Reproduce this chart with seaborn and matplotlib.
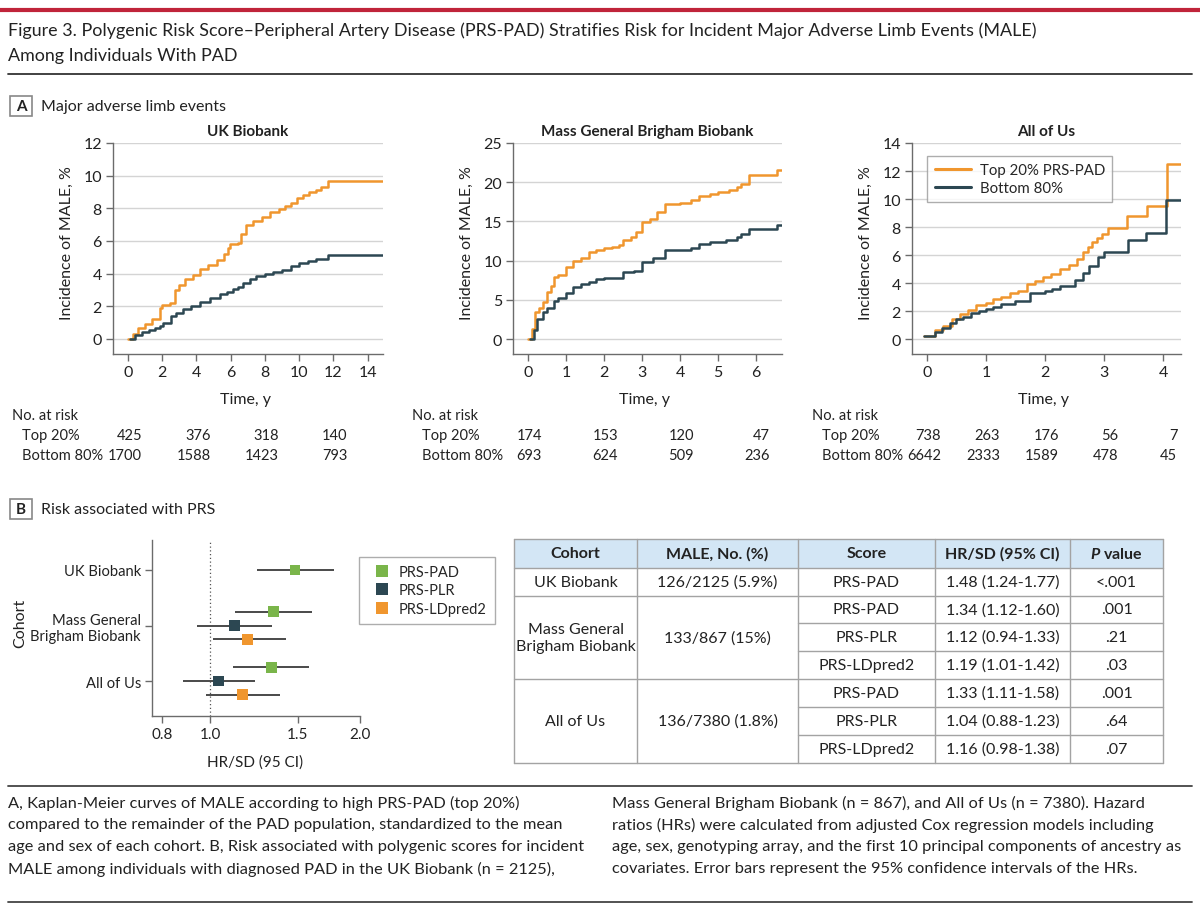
import numpy as np
import pandas as pd
import seaborn as sns
import matplotlib.pyplot as plt
from matplotlib.patches import Rectangle
from matplotlib.lines import Line2D
from matplotlib.transforms import blended_transform_factory, offset_copy

# =============================================================================
# data
groups = ['Top 20% PRS-PAD', 'Bottom 80%']

uk_t_top = [0, 0.3, 0.6, 1.0, 1.4, 1.87, 2.0, 2.45, 2.74, 3.0, 3.3, 3.8, 4.2, 4.7, 5.2, 5.6, 5.85,
            5.95, 6.4, 6.6, 6.9, 7.3, 7.8, 8.3, 8.8, 9.2, 9.5, 9.85, 10.2, 10.6, 11.0, 11.3, 11.7, 14.9]
uk_y_top = [0, 0.3, 0.65, 0.9, 1.2, 1.9, 2.05, 2.2, 3.0, 3.3, 3.65, 3.9, 4.3, 4.55, 4.85, 5.2, 5.6,
            5.8, 5.9, 6.4, 7.0, 7.25, 7.45, 7.75, 7.95, 8.15, 8.35, 8.65, 8.8, 9.0, 9.15, 9.3, 9.65, 9.65]
uk_t_bot = [0.1, 0.4, 0.8, 1.2, 1.6, 1.87, 2.05, 2.5, 2.8, 3.2, 3.7, 4.2, 4.8, 5.4, 5.8, 6.15, 6.4,
            6.7, 7.1, 7.5, 8.0, 8.5, 9.0, 9.5, 10.0, 10.5, 11.0, 11.7, 14.9]
uk_y_bot = [0, 0.25, 0.45, 0.55, 0.7, 0.8, 1.0, 1.4, 1.6, 1.85, 2.0, 2.25, 2.5, 2.75, 2.9, 3.05, 3.2,
            3.45, 3.7, 3.85, 4.0, 4.1, 4.25, 4.45, 4.65, 4.8, 4.9, 5.15, 5.15]

mgb_t_top = [0, 0.1, 0.2, 0.3, 0.4, 0.5, 0.6, 0.7, 0.8, 1.0, 1.2, 1.4, 1.6, 1.8, 2.0, 2.2, 2.4, 2.5,
             2.7, 2.85, 3.0, 3.2, 3.4, 3.6, 4.0, 4.3, 4.5, 4.8, 5.0, 5.3, 5.5, 5.6, 5.8, 6.55, 6.68]
mgb_y_top = [0, 1.3, 3.4, 4.0, 4.7, 6.0, 6.8, 7.9, 8.2, 9.2, 10.0, 10.4, 11.1, 11.3, 11.6, 11.7, 12.0,
             12.6, 13.0, 13.6, 14.9, 15.3, 16.2, 17.25, 17.3, 17.7, 18.2, 18.5, 18.7, 18.95, 19.4,
             19.8, 20.9, 21.5, 21.5]
mgb_t_bot = [0.05, 0.15, 0.25, 0.4, 0.5, 0.7, 0.8, 1.0, 1.2, 1.4, 1.6, 1.8, 2.0, 2.5, 2.8, 3.0, 3.3,
             3.6, 4.3, 4.5, 4.8, 5.2, 5.5, 5.6, 5.8, 6.55, 6.68]
mgb_y_bot = [0, 1.1, 2.55, 3.4, 4.0, 4.9, 5.2, 5.9, 6.6, 7.0, 7.3, 7.6, 7.75, 8.5, 8.7, 9.8, 10.3,
             11.4, 11.6, 12.1, 12.4, 12.6, 13.0, 13.4, 14.05, 14.5, 14.5]

aou_t_top = [-0.05, 0.14, 0.28, 0.42, 0.56, 0.7, 0.84, 1.0, 1.12, 1.25, 1.4, 1.55, 1.69, 1.83, 1.97,
             2.1, 2.25, 2.4, 2.54, 2.65, 2.72, 2.79, 2.88, 2.96, 3.07, 3.38, 3.72, 4.06, 4.3]
aou_y_top = [0.2, 0.65, 0.95, 1.4, 1.8, 2.1, 2.4, 2.6, 2.85, 3.0, 3.3, 3.45, 3.9, 4.15, 4.4,
             4.65, 5.0, 5.3, 5.7, 6.2, 6.55, 6.9, 7.2, 7.5, 7.9, 8.8, 9.5, 12.5, 12.5]
aou_t_bot = [-0.05, 0.14, 0.25, 0.4, 0.5, 0.62, 0.75, 0.88, 1.0, 1.12, 1.25, 1.5, 1.75, 2.0, 2.12,
             2.25, 2.5, 2.65, 2.75, 2.9, 3.0, 3.4, 3.7, 4.05, 4.3]
aou_y_bot = [0.2, 0.5, 0.8, 1.15, 1.4, 1.6, 1.85, 2.0, 2.15, 2.3, 2.5, 2.75, 3.3, 3.45, 3.6,
             3.8, 4.2, 4.75, 5.25, 5.85, 6.25, 7.05, 7.55, 9.95, 9.95]

risk_uk_t = [0, 4, 8, 12]
risk_uk_top = [425, 376, 318, 140]
risk_uk_bot = [1700, 1588, 1423, 793]
risk_mgb_t = [0, 2, 4, 6]
risk_mgb_top = [174, 153, 120, 47]
risk_mgb_bot = [693, 624, 509, 236]
risk_aou_t = [0, 1, 2, 3, 4]
risk_aou_top = [738, 263, 176, 56, 7]
risk_aou_bot = [6642, 2333, 1589, 478, 45]

cohorts = ['UK Biobank', 'Mass General\nBrigham Biobank', 'All of Us']
cohort_male = ['126/2125 (5.9%)', '133/867 (15%)', '136/7380 (1.8%)']
scores = ['PRS-PAD', 'PRS-PLR', 'PRS-LDpred2']
row_cohort = [0, 1, 1, 1, 2, 2, 2]
row_score = ['PRS-PAD', 'PRS-PAD', 'PRS-PLR', 'PRS-LDpred2', 'PRS-PAD', 'PRS-PLR', 'PRS-LDpred2']
row_hr = [1.48, 1.34, 1.12, 1.19, 1.33, 1.04, 1.16]
row_lo = [1.24, 1.12, 0.94, 1.01, 1.11, 0.88, 0.98]
row_hi = [1.77, 1.60, 1.33, 1.42, 1.58, 1.23, 1.38]
row_p = ['<.001', '.001', '.21', '.03', '.001', '.64', '.07']

caption_left = [
    'A, Kaplan-Meier curves of MALE according to high PRS-PAD (top 20%)',
    'compared to the remainder of the PAD population, standardized to the mean',
    'age and sex of each cohort. B, Risk associated with polygenic scores for incident',
    'MALE among individuals with diagnosed PAD in the UK Biobank (n = 2125),',
]
caption_right = [
    'Mass General Brigham Biobank (n = 867), and All of Us (n = 7380). Hazard',
    'ratios (HRs) were calculated from adjusted Cox regression models including',
    'age, sex, genotyping array, and the first 10 principal components of ancestry as',
    'covariates. Error bars represent the 95% confidence intervals of the HRs.',
]

# =============================================================================
ORANGE = '#f0962e'
DARK = '#2c4752'
GREEN = '#7ab54a'
AXC = '#6b6b6b'
TXT = '#222222'

sns.set_theme(style='white')
plt.rcParams['font.family'] = ['Lato', 'DejaVu Sans']
plt.rcParams['mathtext.fontset'] = 'custom'
plt.rcParams['mathtext.it'] = 'Lato:italic:bold'
plt.rcParams['mathtext.rm'] = 'Lato:bold'

W, H = 1200, 912
fig = plt.figure(figsize=(12, 9.12), dpi=100)
fig.patch.set_facecolor('white')


def px_axes(l, t, r, b):
    return fig.add_axes([l / W, 1 - b / H, (r - l) / W, (b - t) / H])


def ftext(x, y, s, **kw):
    fig.text(x / W, 1 - y / H, s, **kw)


def hrule(x0, x1, y, **kw):
    fig.add_artist(Line2D([x0 / W, x1 / W], [1 - y / H, 1 - y / H],
                          transform=fig.transFigure, **kw))


def panel_tag(y, letter, label):
    fig.add_artist(Rectangle((10 / W, 1 - (y + 10) / H), 22 / W, 20 / H, transform=fig.transFigure,
                             fill=False, edgecolor='#888888', lw=1.2))
    ftext(21, y, letter, ha='center', va='center', fontsize=11, fontweight='bold', color=TXT)
    ftext(41, y, label, ha='left', va='center', fontsize=11.5, color=TXT)


def style_axes(ax, size=11.5):
    sns.despine(ax=ax)
    for s in ['left', 'bottom']:
        ax.spines[s].set_color(AXC)
        ax.spines[s].set_linewidth(1)
    ax.tick_params(axis='both', which='both', length=5, width=1, color=AXC, labelsize=size,
                   labelcolor=TXT, pad=3, left=True, bottom=True)


# ---- header -------------------------------------------------------------
hrule(0, W, 11, color='#c0243a', lw=3)
ftext(8, 31, 'Figure 3. Polygenic Risk Score–Peripheral Artery Disease (PRS-PAD) Stratifies Risk '
      'for Incident Major Adverse Limb Events (MALE)', fontsize=12.9, va='center', color=TXT)
ftext(8, 56, 'Among Individuals With PAD', fontsize=12.9, va='center', color=TXT)
hrule(8, 1192, 75, color='#333', lw=1.3)

panel_tag(107, 'A', 'Major adverse limb events')
panel_tag(510, 'B', 'Risk associated with PRS')


# ---- panel A ------------------------------------------------------------
def km_panel(box, t_top, y_top, t_bot, y_bot, xlim, ylim, xticks, yticks, title,
             risk_t, risk_top, risk_bot, risk_x0, legend):
    ax = px_axes(*box)
    df = pd.concat([
        pd.DataFrame({'time': t_top, 'inc': y_top, 'group': groups[0]}),
        pd.DataFrame({'time': t_bot, 'inc': y_bot, 'group': groups[1]}),
    ])
    sns.lineplot(data=df, x='time', y='inc', hue='group', hue_order=groups,
                 palette=[ORANGE, DARK], estimator=None, sort=False, drawstyle='steps-post',
                 lw=1.8, legend=legend, ax=ax)
    ax.set_xlim(*xlim)
    ax.set_ylim(*ylim)
    ax.set_xticks(xticks)
    ax.set_yticks(yticks)
    ax.yaxis.grid(True, color='#d4d4d4', lw=1)
    ax.set_axisbelow(True)
    style_axes(ax)
    ax.set_xlabel('Time, y', fontsize=11.5, color=TXT)
    ax.set_ylabel('Incidence of MALE, %', fontsize=11.5, color=TXT)
    ax.xaxis.set_label_coords(0.49, -0.18)
    ax.yaxis.set_label_coords(-0.145, 0.53)
    l, t, r, b = box
    ftext((l + r) / 2, 132, title, ha='center', va='center', fontsize=11, fontweight='bold',
          color=TXT)
    if legend:
        leg = ax.legend(loc='upper left', bbox_to_anchor=(0.056, 0.94), borderaxespad=0,
                        frameon=True, fancybox=False, edgecolor='#999999', fontsize=10.8,
                        handlelength=2.4, handletextpad=0.6, borderpad=0.5, labelspacing=0.25)
        leg.get_frame().set_linewidth(1)
        for line in leg.get_lines():
            line.set_linewidth(2.2)
    # numbers at risk
    fs = 10.5
    ftext(risk_x0, 416, 'No. at risk', ha='left', va='center', fontsize=fs, color=TXT)
    ftext(risk_x0 + 10, 436, 'Top 20%', ha='left', va='center', fontsize=fs, color=TXT)
    ftext(risk_x0 + 10, 456, 'Bottom 80%', ha='left', va='center', fontsize=fs, color=TXT)
    tr = offset_copy(blended_transform_factory(ax.transData, fig.transFigure), fig=fig,
                     x=0.14, y=0, units='inches')
    for t, a, b2 in zip(risk_t, risk_top, risk_bot):
        fig.text(t, 1 - 436 / H, str(a), transform=tr, ha='right', va='center', fontsize=fs,
                 color=TXT)
        fig.text(t, 1 - 456 / H, str(b2), transform=tr, ha='right', va='center', fontsize=fs,
                 color=TXT)
    return ax


km_panel((113, 144, 383, 355), uk_t_top, uk_y_top, uk_t_bot, uk_y_bot, (-0.88, 14.9),
         (-0.92, 12), [0, 2, 4, 6, 8, 10, 12, 14], [0, 2, 4, 6, 8, 10, 12], 'UK Biobank',
         risk_uk_t, risk_uk_top, risk_uk_bot, 12, False)
km_panel((513, 144, 782, 355), mgb_t_top, mgb_y_top, mgb_t_bot, mgb_y_bot, (-0.39, 6.68),
         (-1.9, 25), [0, 1, 2, 3, 4, 5, 6], [0, 5, 10, 15, 20, 25], 'Mass General Brigham Biobank',
         risk_mgb_t, risk_mgb_top, risk_mgb_bot, 412, False)
km_panel((912, 144, 1181, 355), aou_t_top, aou_y_top, aou_t_bot, aou_y_bot, (-0.25, 4.3),
         (-1.07, 14), [0, 1, 2, 3, 4], [0, 2, 4, 6, 8, 10, 12, 14], 'All of Us',
         risk_aou_t, risk_aou_top, risk_aou_bot, 812, True)

# ---- panel B forest -----------------------------------------------------
n_in = [row_cohort.count(c) for c in row_cohort]
offs = {'PRS-PAD': -0.25, 'PRS-PLR': 0.0, 'PRS-LDpred2': 0.25}
ypos = [c + (offs[s] if n > 1 else 0) for c, s, n in zip(row_cohort, row_score, n_in)]

axf = px_axes(152, 541, 360, 717)
axf.axvline(1.0, color='#555555', lw=0.9, ls=(0, (1, 2)), zorder=1)
axf.hlines(ypos, row_lo, row_hi, color='#4a4a4a', lw=1.4, zorder=2)
fdf = pd.DataFrame({'hr': row_hr, 'y': ypos, 'score': row_score})
sns.scatterplot(data=fdf, x='hr', y='y', hue='score', hue_order=scores,
                palette=[GREEN, DARK, ORANGE], marker='s', s=62, linewidth=0, zorder=3, ax=axf)
axf.set_xscale('log')
axf.set_xlim(0.763, 2.0)
axf.set_ylim(2.63, -0.54)
axf.set_xticks([0.8, 1.0, 1.5, 2.0])
axf.set_xticklabels(['0.8', '1.0', '1.5', '2.0'])
axf.xaxis.set_minor_locator(plt.NullLocator())
axf.set_yticks([0, 1, 2])
axf.set_yticklabels(cohorts, linespacing=1.2)
style_axes(axf, size=10.6)
axf.tick_params(axis='x', labelsize=11)
axf.set_xlabel('HR/SD (95 CI)', fontsize=11, color=TXT)
axf.set_ylabel('Cohort', fontsize=11.5, color=TXT)
axf.xaxis.set_label_coords(0.495, -0.22)
axf.yaxis.set_label_coords(-0.6, 0.534)
leg = axf.legend(loc='upper left', bbox_to_anchor=(0.995, 0.903), borderaxespad=0, frameon=True,
                 fancybox=False, edgecolor='#999999', fontsize=10.5, handletextpad=0.2,
                 borderpad=0.55, labelspacing=0.3, markerscale=1.1)
leg.get_frame().set_linewidth(1)

# ---- panel B table ------------------------------------------------------
rows_y = [540, 569, 597, 624, 652, 680, 708, 736, 764]
cols_x = [514, 637, 798, 935, 1070, 1163]
LC = '#a3a3a3'
axt = px_axes(cols_x[0], rows_y[0], cols_x[-1], rows_y[-1])
axt.set_xlim(cols_x[0], cols_x[-1])
axt.set_ylim(rows_y[-1], rows_y[0])
axt.axis('off')
axt.add_patch(Rectangle((cols_x[0], rows_y[0]), cols_x[-1] - cols_x[0], rows_y[1] - rows_y[0],
                        facecolor='#d3e6f5', edgecolor='none'))
for x in cols_x:
    axt.plot([x, x], [rows_y[0], rows_y[-1]], color=LC, lw=1, clip_on=False)
axt.plot([cols_x[0], cols_x[-1]], [rows_y[0]] * 2, color=LC, lw=1, clip_on=False)
axt.plot([cols_x[0], cols_x[-1]], [rows_y[1]] * 2, color=LC, lw=1, clip_on=False)
axt.plot([cols_x[0], cols_x[-1]], [rows_y[-1]] * 2, color=LC, lw=1, clip_on=False)
for k in range(len(row_cohort) - 1):
    x0 = cols_x[0] if row_cohort[k] != row_cohort[k + 1] else cols_x[2]
    axt.plot([x0, cols_x[-1]], [rows_y[k + 2]] * 2, color=LC, lw=1, clip_on=False)

headers = ['Cohort', 'MALE, No. (%)', 'Score', 'HR/SD (95% CI)', '$\\mathit{P}$ value']
cx = [(a + b) / 2 for a, b in zip(cols_x[:-1], cols_x[1:])]
for x, h in zip(cx, headers):
    axt.text(x, (rows_y[0] + rows_y[1]) / 2, h, ha='center', va='center', fontsize=11.5,
             fontweight='bold', color=TXT)
for c in range(len(cohorts)):
    idx = [i for i, rc in enumerate(row_cohort) if rc == c]
    yc = (rows_y[idx[0] + 1] + rows_y[idx[-1] + 2]) / 2
    axt.text(cx[0], yc, cohorts[c], ha='center', va='center', fontsize=11.5, color=TXT,
             linespacing=1.2)
    axt.text(cx[1], yc, cohort_male[c], ha='center', va='center', fontsize=11.5, color=TXT)
for i in range(len(row_cohort)):
    yc = (rows_y[i + 1] + rows_y[i + 2]) / 2
    axt.text(cx[2], yc, row_score[i], ha='center', va='center', fontsize=11.5, color=TXT)
    axt.text(cx[3], yc, f'{row_hr[i]:.2f} ({row_lo[i]:.2f}-{row_hi[i]:.2f})', ha='center',
             va='center', fontsize=11.5, color=TXT)
    axt.text(cx[4], yc, row_p[i], ha='center', va='center', fontsize=11.5, color=TXT)

# ---- caption ------------------------------------------------------------
hrule(8, 1192, 787, color='#444', lw=1.3)
for i, (a, b) in enumerate(zip(caption_left, caption_right)):
    ftext(8, 803 + 22 * i, a, ha='left', va='center', fontsize=11.8, color=TXT)
    ftext(612, 803 + 22 * i, b, ha='left', va='center', fontsize=11.8, color=TXT)
hrule(8, 1192, 903, color='#444', lw=1.3)

fig.savefig('out.png', dpi=100, facecolor='white')
